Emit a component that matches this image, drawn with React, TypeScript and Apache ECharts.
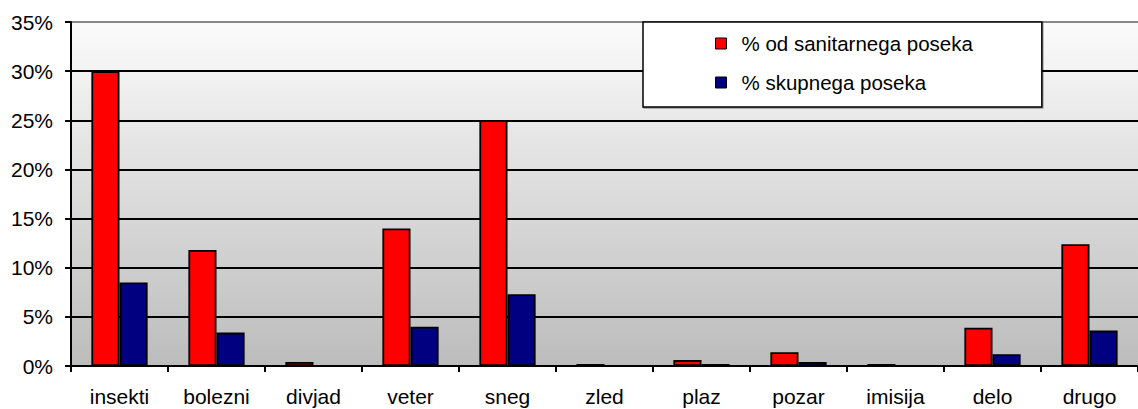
import React, { useEffect, useRef } from "react";
import * as echarts from "echarts";

const categories = ["insekti", "bolezni", "divjad", "veter", "sneg", "zled", "plaz", "pozar", "imisija", "delo", "drugo"];
const sanitarni = [30.0, 11.8, 0.4, 14.0, 25.0, 0.2, 0.6, 1.4, 0.2, 3.9, 12.4];
const skupni = [8.5, 3.4, 0, 4.0, 7.3, 0, 0.2, 0.4, 0, 1.2, 3.6];
const seriesNames = ["% od sanitarnega poseka", "% skupnega poseka"];
const yTicks = [0, 5, 10, 15, 20, 25, 30, 35];

export default function App() {
  const ref = useRef<HTMLDivElement>(null);
  useEffect(() => {
    if (!ref.current) return;
    const chart = echarts.init(ref.current, undefined, { renderer: "svg" });
    const font = "'Liberation Sans', Arial, sans-serif";
    chart.setOption({
      animation: false,
      textStyle: { fontFamily: font },
      grid: {
        left: 71,
        right: 0,
        top: 22,
        bottom: 43,
        show: true,
        borderWidth: 0,
        backgroundColor: {
          type: "linear",
          x: 0,
          y: 0,
          x2: 0,
          y2: 1,
          colorStops: [
            { offset: 0, color: "#fbfbfb" },
            { offset: 1, color: "#bcbcbc" },
          ],
        },
      },
      legend: {
        orient: "vertical",
        left: 643,
        top: 22,
        padding: [11, 69, 14, 72],
        itemGap: 18,
        itemWidth: 11,
        itemHeight: 11,
        icon: "rect",
        borderColor: "#000",
        borderWidth: 1.5,
        backgroundColor: "#fff",
        shadowColor: "rgba(0,0,0,0.35)",
        shadowOffsetX: 1,
        shadowOffsetY: 1,
        shadowBlur: 1,
        textStyle: { fontSize: 20.5, color: "#000", fontFamily: font, lineHeight: 20, padding: [0, 0, 0, 10] },
        data: seriesNames.map((n) => ({ name: n, itemStyle: { borderColor: "#000", borderWidth: 1 } })),
      },
      xAxis: {
        type: "category",
        data: categories,
        axisLine: { show: true, lineStyle: { color: "#000", width: 2 } },
        axisTick: { show: true, length: 6, alignWithLabel: false, lineStyle: { color: "#000", width: 2 } },
        axisLabel: { color: "#000", fontSize: 21, margin: 20, fontFamily: font, interval: 0 },
        splitLine: { show: false },
      },
      yAxis: {
        type: "value",
        min: yTicks[0],
        max: yTicks[yTicks.length - 1],
        interval: 5,
        axisLine: { show: true, lineStyle: { color: "#000", width: 2 } },
        axisTick: { show: true, length: 6, lineStyle: { color: "#000", width: 2 } },
        axisLabel: { color: "#000", fontSize: 21, margin: 18, fontFamily: font, formatter: "{value}%" },
        splitLine: {
          show: true,
          lineStyle: {
            color: ["#000", "#000", "#000", "#000", "#000", "#000", "#000", "#888"],
            width: 2,
          },
        },
      },
      series: [
        {
          name: seriesNames[0],
          type: "bar",
          data: sanitarni,
          barGap: "0%",
          barCategoryGap: "42%",
          itemStyle: { color: "#ff0000", borderColor: "#000", borderWidth: 1.8 },
        },
        {
          name: seriesNames[1],
          type: "bar",
          data: skupni,
          barGap: "0%",
          barCategoryGap: "42%",
          itemStyle: { color: "#000080", borderColor: "#000", borderWidth: 1.8 },
        },
      ],
    });
    return () => chart.dispose();
  }, []);
  return (
    <div
      ref={ref}
      style={{ position: "fixed", left: 0, top: 0, width: 1138, height: 409, background: "#fff" }}
    />
  );
}
